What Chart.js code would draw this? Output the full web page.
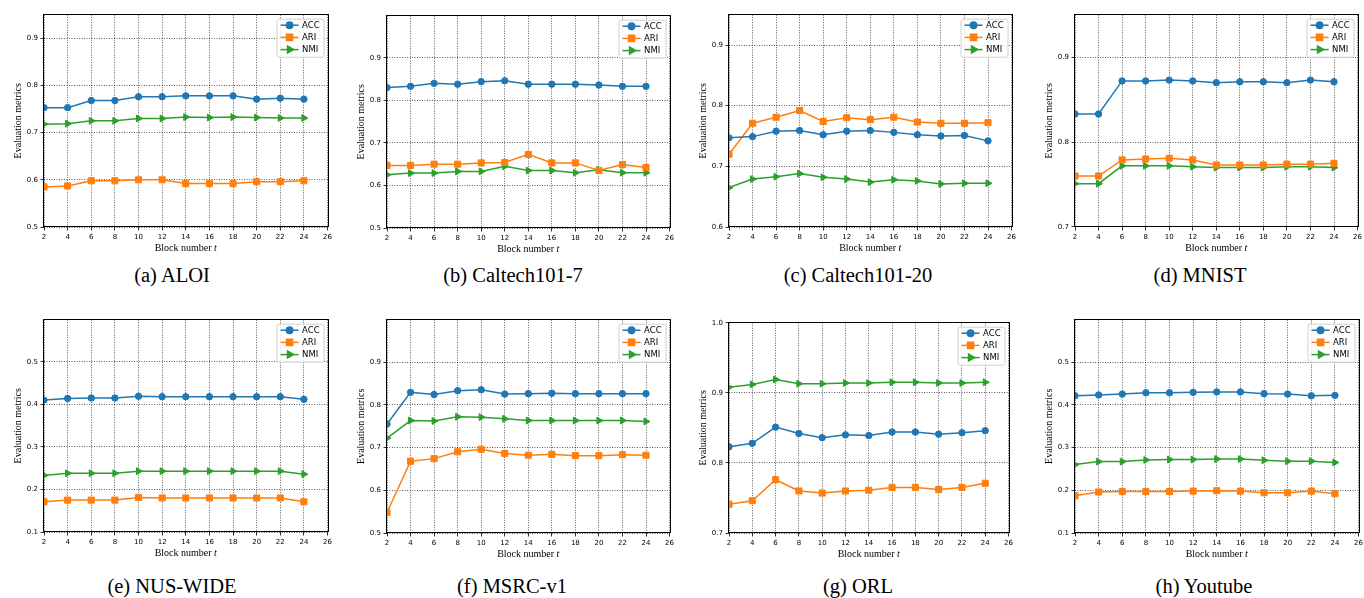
<!DOCTYPE html>
<html>
<head>
<meta charset="utf-8">
<script src="https://cdn.jsdelivr.net/npm/chart.js@4.4.1/dist/chart.umd.min.js"></script>
<style>
html, body { margin: 0; padding: 0; background: #fff; width: 1364px; height: 598px; overflow: hidden; }
body { position: relative; }
canvas { position: absolute; }
.cap { position: absolute; font-family: "Liberation Serif", "Times New Roman", serif; font-size: 20.5px; color: #000; transform: translate(-50%, -50%); white-space: nowrap; }
</style>
</head>
<body>
<script>
// block numbers on the x axis
const blocks = [2, 4, 6, 8, 10, 12, 14, 16, 18, 20, 22, 24];
const seriesNames = ["ACC", "ARI", "NMI"];

// (a) ALOI
const aloiAcc = [0.753, 0.753, 0.768, 0.768, 0.776, 0.776, 0.778, 0.778, 0.778, 0.771, 0.773, 0.771];
const aloiAri = [0.585, 0.587, 0.598, 0.598, 0.600, 0.600, 0.592, 0.592, 0.592, 0.596, 0.596, 0.598];
const aloiNmi = [0.718, 0.719, 0.725, 0.725, 0.730, 0.730, 0.733, 0.732, 0.733, 0.732, 0.731, 0.731];
// (b) Caltech101-7
const c7Acc = [0.830, 0.833, 0.840, 0.838, 0.844, 0.846, 0.838, 0.838, 0.838, 0.836, 0.833, 0.833];
const c7Ari = [0.647, 0.647, 0.650, 0.650, 0.653, 0.654, 0.673, 0.653, 0.653, 0.635, 0.649, 0.642];
const c7Nmi = [0.625, 0.629, 0.629, 0.633, 0.633, 0.645, 0.635, 0.635, 0.630, 0.637, 0.630, 0.630];
// (c) Caltech101-20
const c20Acc = [0.747, 0.749, 0.758, 0.759, 0.752, 0.758, 0.759, 0.756, 0.752, 0.750, 0.751, 0.742];
const c20Ari = [0.720, 0.771, 0.781, 0.792, 0.774, 0.780, 0.777, 0.781, 0.773, 0.771, 0.771, 0.772];
const c20Nmi = [0.665, 0.679, 0.683, 0.688, 0.682, 0.679, 0.674, 0.678, 0.676, 0.671, 0.672, 0.672];
// (d) MNIST
const mnistAcc = [0.833, 0.833, 0.872, 0.872, 0.873, 0.872, 0.870, 0.871, 0.871, 0.870, 0.873, 0.871];
const mnistAri = [0.760, 0.760, 0.779, 0.780, 0.781, 0.779, 0.773, 0.773, 0.773, 0.774, 0.774, 0.775];
const mnistNmi = [0.751, 0.751, 0.772, 0.772, 0.772, 0.771, 0.770, 0.770, 0.770, 0.771, 0.771, 0.770];
// (e) NUS-WIDE
const nusAcc = [0.410, 0.414, 0.415, 0.415, 0.419, 0.418, 0.418, 0.418, 0.418, 0.418, 0.418, 0.412];
const nusAri = [0.171, 0.175, 0.175, 0.175, 0.181, 0.180, 0.180, 0.180, 0.180, 0.180, 0.180, 0.171];
const nusNmi = [0.233, 0.238, 0.238, 0.238, 0.243, 0.243, 0.243, 0.243, 0.243, 0.243, 0.243, 0.236];
// (f) MSRC-v1
const msrcAcc = [0.755, 0.829, 0.824, 0.833, 0.835, 0.825, 0.826, 0.827, 0.826, 0.826, 0.826, 0.826];
const msrcAri = [0.548, 0.668, 0.674, 0.690, 0.696, 0.686, 0.682, 0.684, 0.681, 0.681, 0.683, 0.682];
const msrcNmi = [0.722, 0.763, 0.762, 0.772, 0.771, 0.767, 0.763, 0.763, 0.763, 0.763, 0.763, 0.761];
// (g) ORL
const orlAcc = [0.823, 0.828, 0.851, 0.842, 0.836, 0.840, 0.839, 0.844, 0.844, 0.841, 0.843, 0.846];
const orlAri = [0.741, 0.746, 0.776, 0.760, 0.757, 0.760, 0.761, 0.765, 0.765, 0.762, 0.765, 0.771];
const orlNmi = [0.908, 0.912, 0.919, 0.913, 0.913, 0.914, 0.914, 0.915, 0.915, 0.914, 0.914, 0.915];
// (h) Youtube
const ytAcc = [0.421, 0.423, 0.425, 0.428, 0.428, 0.429, 0.430, 0.430, 0.426, 0.425, 0.421, 0.422];
const ytAri = [0.187, 0.196, 0.197, 0.197, 0.197, 0.198, 0.199, 0.198, 0.194, 0.194, 0.198, 0.192];
const ytNmi = [0.260, 0.267, 0.267, 0.271, 0.272, 0.272, 0.273, 0.273, 0.270, 0.268, 0.268, 0.265];

const colors = ["#1f77b4", "#ff7f0e", "#2ca02c"];
const styles = [
  { pointStyle: "circle", radius: 3.2, rotation: 0 },
  { pointStyle: "rect", radius: 4.3, rotation: 0 },
  { pointStyle: "triangle", radius: 4, rotation: 90 }
];

// plot-area boxes and y ranges of the eight panels
const panels = [
  { cap: "(a) ALOI",          cx: 172,  cy: 275, l: 44,   t: 14,  r: 330,  b: 227, yMin: 0.5, yMax: 0.95,  s: [aloiAcc, aloiAri, aloiNmi] },
  { cap: "(b) Caltech101-7",  cx: 513,  cy: 275, l: 387,  t: 15,  r: 672,  b: 228, yMin: 0.5, yMax: 0.999, s: [c7Acc, c7Ari, c7Nmi] },
  { cap: "(c) Caltech101-20", cx: 858,  cy: 275, l: 729,  t: 14,  r: 1014, b: 227, yMin: 0.6, yMax: 0.95,  s: [c20Acc, c20Ari, c20Nmi] },
  { cap: "(d) MNIST",         cx: 1200, cy: 275, l: 1075, t: 14,  r: 1360, b: 227, yMin: 0.7, yMax: 0.95,  s: [mnistAcc, mnistAri, mnistNmi] },
  { cap: "(e) NUS-WIDE",      cx: 172,  cy: 586, l: 44,   t: 319, r: 330,  b: 532, yMin: 0.1, yMax: 0.599, s: [nusAcc, nusAri, nusNmi] },
  { cap: "(f) MSRC-v1",       cx: 512,  cy: 586, l: 387,  t: 319, r: 672,  b: 533, yMin: 0.5, yMax: 0.999, s: [msrcAcc, msrcAri, msrcNmi] },
  { cap: "(g) ORL",           cx: 858,  cy: 586, l: 729,  t: 322, r: 1011, b: 533, yMin: 0.7, yMax: 1.0,   s: [orlAcc, orlAri, orlNmi] },
  { cap: "(h) Youtube",       cx: 1204, cy: 586, l: 1075, t: 319, r: 1361, b: 533, yMin: 0.1, yMax: 0.599, s: [ytAcc, ytAri, ytNmi] }
];

const AXW = 44, AXH = 30, PADT = 6, PADR = 4;

function drawMarker(ctx, st, x, y) {
  if (Chart.helpers && Chart.helpers.drawPoint) {
    Chart.helpers.drawPoint(ctx, { pointStyle: st.pointStyle, radius: st.radius, rotation: st.rotation, borderWidth: 1 }, x, y);
  } else {
    ctx.beginPath(); ctx.arc(x, y, st.radius, 0, Math.PI * 2); ctx.fill();
  }
}

const framePlugin = {
  id: "frame",
  afterDatasetsDraw(chart) {
    const { ctx, chartArea: a } = chart;
    ctx.save();
    ctx.setLineDash([]);
    ctx.strokeStyle = "#000";
    ctx.lineWidth = 1;
    ctx.strokeRect(Math.floor(a.left) - 0.5, Math.floor(a.top) + 0.5, Math.round(a.right - a.left) + 1, Math.round(a.bottom - a.top));
    ctx.restore();
  },
  afterDraw(chart) {
    const { ctx, chartArea: a } = chart;
    ctx.save();
    ctx.setLineDash([]);
    // x axis title with italic t
    ctx.fillStyle = "#000";
    ctx.textBaseline = "middle";
    const f1 = '10px "Liberation Serif", serif';
    const f2 = 'italic 10px "Liberation Serif", serif';
    ctx.font = f1;
    const w1 = ctx.measureText("Block number ").width;
    ctx.font = f2;
    const w2 = ctx.measureText("t").width;
    const x0 = (a.left + a.right) / 2 - (w1 + w2) / 2;
    const ty = a.bottom + 21;
    ctx.font = f1; ctx.textAlign = "left";
    ctx.fillText("Block number ", x0, ty);
    ctx.font = f2;
    ctx.fillText("t", x0 + w1, ty);

    // legend box, upper right
    const bw = 47, bh = 38;
    const bx = a.right - 4 - bw, by = a.top + 4;
    ctx.fillStyle = "rgba(255,255,255,0.8)";
    ctx.strokeStyle = "#d0d0d0";
    ctx.lineWidth = 1;
    ctx.beginPath();
    if (ctx.roundRect) ctx.roundRect(bx + 0.5, by + 0.5, bw, bh, 2); else ctx.rect(bx + 0.5, by + 0.5, bw, bh);
    ctx.fill(); ctx.stroke();
    ctx.font = '8.5px "DejaVu Sans", sans-serif';
    ctx.textBaseline = "middle";
    seriesNames.forEach((name, i) => {
      const ry = by + 6.5 + i * 12.2;
      ctx.strokeStyle = colors[i];
      ctx.fillStyle = colors[i];
      ctx.lineWidth = 1.5;
      ctx.beginPath();
      ctx.moveTo(bx + 4, ry); ctx.lineTo(bx + 22, ry);
      ctx.stroke();
      drawMarker(ctx, styles[i], bx + 13, ry);
      ctx.fillStyle = "#000";
      ctx.fillText(name, bx + 25.5, ry + 0.5);
    });
    ctx.restore();
  }
};

panels.forEach(p => {
  const cv = document.createElement("canvas");
  const w = (p.r - p.l) + AXW + PADR;
  const h = (p.b - p.t) + PADT + AXH;
  cv.width = w; cv.height = h;
  cv.style.left = (p.l - AXW) + "px";
  cv.style.top = (p.t - PADT) + "px";
  cv.style.width = w + "px"; cv.style.height = h + "px";
  document.body.appendChild(cv);

  const cap = document.createElement("div");
  cap.className = "cap";
  cap.textContent = p.cap;
  cap.style.left = p.cx + "px";
  cap.style.top = p.cy + "px";
  document.body.appendChild(cap);

  const datasets = p.s.map((arr, i) => ({
    label: seriesNames[i],
    data: blocks.map((b, k) => ({ x: b, y: arr[k] })),
    borderColor: colors[i],
    backgroundColor: colors[i],
    pointBackgroundColor: colors[i],
    pointBorderColor: colors[i],
    pointStyle: styles[i].pointStyle,
    pointRadius: styles[i].radius,
    pointRotation: styles[i].rotation,
    pointBorderWidth: 1,
    borderWidth: 1.5,
    tension: 0
  }));

  const gridOpts = {
    color: "rgba(0,0,0,0.8)",
    lineWidth: 0.8,
    drawTicks: true,
    tickLength: 3.5,
    tickColor: "#000",
    tickWidth: 0.8,
    tickBorderDash: []
  };
  const borderOpts = { display: false, dash: [1, 1.5] };

  new Chart(cv, {
    type: "line",
    data: { datasets },
    options: {
      responsive: false,
      animation: false,
      events: [],
      layout: { padding: { top: PADT, right: PADR, left: 0, bottom: 0 } },
      plugins: { legend: { display: false }, tooltip: { enabled: false } },
      scales: {
        x: {
          type: "linear",
          min: 2, max: 26,
          border: borderOpts,
          grid: gridOpts,
          ticks: {
            stepSize: 2, autoSkip: false, maxRotation: 0, padding: 2,
            color: "#000", font: { family: "DejaVu Sans", size: 7 }
          },
          afterFit: s => { s.height = AXH; }
        },
        y: {
          type: "linear",
          min: p.yMin, max: p.yMax,
          border: borderOpts,
          grid: gridOpts,
          ticks: {
            stepSize: 0.1, includeBounds: false, padding: 2.5,
            color: "#000", font: { family: "DejaVu Sans", size: 7 },
            callback: v => v.toFixed(1)
          },
          title: {
            display: true,
            text: "Evaluation metrics",
            color: "#000",
            font: { family: "Liberation Serif", size: 10 },
            padding: { top: 12, bottom: 0 }
          },
          afterFit: s => { s.width = AXW; }
        }
      }
    },
    plugins: [framePlugin]
  });
});
</script>
</body>
</html>
